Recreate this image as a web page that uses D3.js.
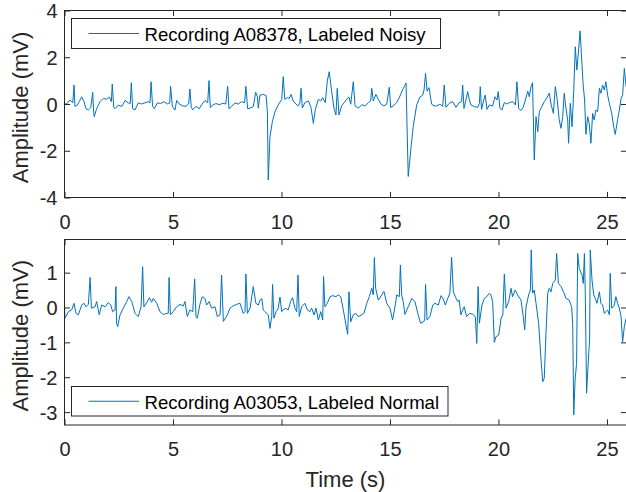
<!DOCTYPE html>
<html><head><meta charset="utf-8">
<script src="https://cdn.jsdelivr.net/npm/d3@7"></script>
<style>html,body{margin:0;padding:0;background:#fff;} svg{display:block;font-family:"Liberation Sans",Arial,Helvetica,sans-serif;}</style>
</head><body><svg id="c" width="626" height="492"></svg>
<script>
// ---- data ----
const timeNoisy=[0.00,0.10,0.25,0.38,0.44,0.48,0.59,0.68,0.79,0.90,0.99,1.10,1.21,1.30,1.34,1.37,1.48,1.64,1.79,1.94,2.07,2.16,2.20,2.27,2.33,2.48,2.64,2.79,2.94,3.03,3.08,3.14,3.25,3.40,3.56,3.71,3.86,3.94,3.99,4.06,4.14,4.28,4.43,4.59,4.74,4.85,4.89,4.97,5.09,5.17,5.29,5.45,5.60,5.72,5.78,5.84,5.91,6.06,6.21,6.34,6.47,6.60,6.66,6.72,6.83,6.98,7.13,7.29,7.43,7.52,7.58,7.70,7.86,8.01,8.16,8.30,8.36,8.44,8.55,8.70,8.81,8.89,8.93,9.01,9.16,9.29,9.35,9.39,9.47,9.58,9.70,9.85,10.01,10.08,10.15,10.27,10.36,10.44,10.54,10.67,10.77,10.85,10.90,10.96,11.08,11.24,11.36,11.47,11.56,11.70,11.81,11.90,12.02,12.11,12.20,12.31,12.42,12.51,12.57,12.65,12.77,12.89,13.00,13.11,13.19,13.31,13.39,13.54,13.70,13.85,14.00,14.11,14.16,14.23,14.35,14.46,14.59,14.72,14.85,14.97,15.03,15.15,15.31,15.46,15.59,15.66,15.74,15.84,15.97,16.07,16.23,16.38,16.51,16.57,16.64,16.71,16.80,16.92,17.03,17.15,17.30,17.43,17.50,17.58,17.73,17.89,18.04,18.19,18.30,18.35,18.41,18.50,18.58,18.66,18.73,18.89,19.04,19.12,19.16,19.22,19.32,19.39,19.47,19.58,19.73,19.84,19.93,19.99,20.07,20.16,20.27,20.39,20.50,20.66,20.78,20.85,20.93,21.04,21.14,21.24,21.35,21.42,21.50,21.57,21.65,21.73,21.81,21.88,22.00,22.11,22.24,22.34,22.43,22.53,22.62,22.70,22.80,22.88,22.96,23.03,23.11,23.19,23.23,23.31,23.39,23.47,23.54,23.61,23.68,23.76,23.82,23.90,23.97,24.03,24.11,24.18,24.26,24.34,24.41,24.49,24.57,24.65,24.72,24.80,24.88,24.95,25.03,25.11,25.22,25.31,25.38,25.49,25.57,25.65,25.72,25.80,25.88];
const ampNoisy=[0.02,0.00,0.17,0.05,0.81,-0.10,-0.05,0.10,0.31,0.10,-0.20,-0.25,-0.15,0.50,-0.30,-0.54,-0.20,0.10,0.24,0.20,0.30,0.10,0.85,-0.15,-0.20,-0.05,-0.10,0.15,0.05,0.02,0.91,-0.20,-0.25,0.05,0.00,0.05,0.10,0.05,0.95,-0.10,-0.20,0.05,0.02,0.10,0.00,0.05,0.76,-0.10,-0.26,0.15,0.00,-0.08,-0.10,0.00,0.64,-0.15,-0.25,-0.10,-0.20,0.00,0.15,0.05,1.00,-0.15,-0.05,0.02,-0.03,0.03,0.00,0.76,-0.20,-0.10,0.05,0.00,0.10,0.05,0.76,-0.20,-0.18,-0.11,0.50,0.31,-0.18,0.38,0.41,0.36,-0.33,-3.25,-1.40,-0.75,-0.33,-0.04,0.20,1.17,0.20,0.27,0.24,0.41,0.13,-0.01,-0.08,0.06,0.67,-0.17,0.06,0.13,-0.15,-0.83,-0.23,0.20,0.13,0.27,0.06,0.98,1.38,0.55,-0.18,-0.47,0.67,-0.47,-0.08,0.06,0.20,0.30,-0.01,0.95,-0.08,-0.18,-0.03,-0.08,0.06,0.13,0.67,0.13,0.41,0.20,-0.01,-0.08,-0.01,0.72,-0.15,-0.08,0.06,0.34,0.63,0.74,0.90,-3.10,-1.87,-0.97,-0.04,0.30,0.38,0.60,1.31,0.55,0.70,-0.01,-0.08,-0.08,-0.01,-0.10,0.81,-0.14,0.03,0.10,-0.14,0.06,0.10,0.81,-0.19,0.17,0.53,0.17,-0.04,-0.11,-0.14,0.03,0.74,-0.23,0.17,0.38,-0.23,-0.04,-0.09,0.31,0.17,0.53,-0.19,-0.26,0.06,0.00,0.06,0.10,-0.04,0.95,-0.19,-0.28,-0.14,0.17,0.55,0.31,0.74,0.91,-2.39,-0.54,-1.18,-0.33,-0.11,0.10,0.28,0.46,-0.04,-0.40,0.74,0.24,-0.68,-1.04,-0.54,0.46,-0.19,-0.68,-1.68,0.03,-0.97,0.60,2.45,1.45,2.17,3.13,2.17,0.85,0.17,-1.30,-0.54,-0.83,-1.68,-0.40,-0.68,-0.26,-0.33,0.67,0.46,0.81,0.60,0.95,0.38,0.03,-0.40,-0.97,-1.30,-0.68,-0.26,0.24,0.38,1.52,0.74];
const timeNormal=[0.00,0.02,0.18,0.33,0.44,0.53,0.64,0.79,0.90,0.99,1.10,1.18,1.24,1.41,1.48,1.60,1.71,1.87,2.02,2.13,2.22,2.33,2.37,2.40,2.45,2.56,2.71,2.87,2.97,3.10,3.25,3.40,3.53,3.60,3.66,3.82,3.91,4.02,4.09,4.25,4.40,4.55,4.71,4.78,4.82,4.88,5.01,5.17,5.32,5.47,5.55,5.66,5.78,5.91,6.00,6.06,6.12,6.24,6.35,6.47,6.55,6.67,6.78,6.94,7.04,7.17,7.24,7.32,7.47,7.63,7.78,7.93,8.09,8.24,8.32,8.36,8.43,8.55,8.70,8.82,8.93,9.01,9.09,9.16,9.24,9.39,9.47,9.55,9.59,9.65,9.75,9.85,9.93,10.01,10.16,10.31,10.42,10.51,10.62,10.70,10.76,10.82,10.93,11.08,11.19,11.31,11.39,11.50,11.59,11.70,11.81,11.90,11.94,12.00,12.11,12.24,12.36,12.51,12.62,12.73,12.85,12.97,13.05,13.11,13.19,13.31,13.43,13.54,13.70,13.80,13.93,14.05,14.16,14.23,14.28,14.34,14.46,14.62,14.72,14.85,15.00,15.12,15.23,15.31,15.43,15.48,15.54,15.61,15.69,15.84,16.00,16.15,16.30,16.41,16.54,16.60,16.64,16.71,16.84,16.97,17.07,17.23,17.35,17.45,17.55,17.66,17.76,17.84,17.92,18.01,18.12,18.19,18.27,18.35,18.42,18.53,18.66,18.81,18.93,19.00,19.06,19.12,19.24,19.35,19.46,19.58,19.65,19.73,19.81,19.88,20.01,20.12,20.20,20.27,20.35,20.47,20.58,20.65,20.77,20.88,21.04,21.14,21.21,21.27,21.39,21.47,21.51,21.57,21.65,21.73,21.85,21.96,22.04,22.11,22.19,22.27,22.34,22.42,22.50,22.62,22.68,22.76,22.88,23.00,23.11,23.26,23.37,23.42,23.47,23.53,23.60,23.65,23.72,23.85,23.91,23.96,24.00,24.06,24.16,24.20,24.23,24.31,24.39,24.46,24.54,24.65,24.72,24.80,24.88,24.95,25.03,25.11,25.15,25.22,25.34,25.41,25.49,25.57,25.65,25.72,25.80,25.88];
const ampNormal=[0.12,-0.31,-0.12,-0.07,0.12,-0.17,-0.21,0.07,0.12,0.02,0.09,0.86,-0.02,0.02,0.17,-0.21,0.07,0.02,0.14,0.07,-0.12,-0.07,0.60,-0.45,-0.55,-0.21,-0.02,0.17,0.31,0.17,-0.17,-0.26,0.02,1.17,0.02,0.17,0.28,0.15,0.26,0.12,-0.12,-0.20,-0.17,-0.17,0.86,-0.21,-0.12,0.02,0.09,0.04,0.17,-0.26,-0.07,-0.12,0.82,-0.26,-0.31,0.09,0.31,0.26,0.07,0.17,-0.02,0.02,-0.26,-0.21,0.93,-0.40,-0.26,-0.02,0.05,0.09,0.12,-0.17,-0.12,0.96,-0.17,-0.02,0.60,0.12,0.07,0.21,0.26,-0.07,-0.12,-0.21,-0.60,-0.26,0.66,-0.31,-0.12,-0.02,0.30,-0.12,-0.02,-0.07,0.17,0.28,-0.02,-0.12,0.93,-0.26,0.02,0.12,-0.07,-0.12,-0.02,-0.21,-0.02,-0.36,-0.12,-0.36,0.89,0.02,0.12,0.31,0.34,0.31,0.36,0.31,-0.07,-0.50,-0.77,0.45,-0.41,-0.21,-0.17,-0.26,-0.21,-0.17,0.12,0.31,0.55,0.36,1.43,0.55,0.21,0.36,0.46,0.12,-0.02,-0.36,0.02,0.36,0.31,1.22,0.36,0.17,-0.20,0.02,0.26,0.17,-0.21,-0.45,-0.41,-0.36,0.66,-0.36,-0.26,0.07,0.12,0.07,0.34,0.25,0.07,0.26,0.41,1.44,0.45,0.31,0.17,0.21,-0.21,-0.07,0.02,-0.26,-0.17,-0.19,-0.26,-1.03,0.60,-0.45,0.07,0.26,0.31,0.41,0.36,0.17,-1.00,-0.84,-0.79,-0.31,-0.21,0.96,-0.02,0.17,0.55,0.31,0.50,0.36,0.21,-0.26,-0.64,0.02,0.36,0.50,1.65,0.41,0.50,0.12,-0.45,-1.50,-2.13,-2.03,-0.74,0.41,0.55,0.45,0.69,0.79,1.55,0.69,0.60,0.45,0.26,0.21,0.02,-0.45,-3.08,-2.08,-1.60,1.55,1.12,0.93,0.69,1.55,0.41,-2.46,-1.31,-0.93,1.65,0.79,0.36,0.26,0.12,0.45,0.12,0.07,-0.17,-0.12,-0.07,-0.21,0.98,-0.02,0.07,0.31,0.12,-0.02,-0.26,-0.98,-0.55,-0.31];
const xTicks=[0,5,10,15,20,25];
const yTicksNoisy=[-4,-2,0,2,4];
const yTicksNormal=[-3,-2,-1,0,1];
const xDomain=[0,25.9];
const yDomainNoisy=[-4,4];
const yDomainNormal=[-3.37,1.95];
const legendNoisy="Recording A08378, Labeled Noisy";
const legendNormal="Recording A03053, Labeled Normal";
const xLabel="Time (s)";
const yLabel="Amplitude (mV)";

// ---- layout ----
const svg=d3.select("#c");
svg.append("rect").attr("width",626).attr("height",492).attr("fill","#fff");
const ink="#262626", lineColor="#0072BD";
const L=64.5, R=626.5, TL=5.6;
const FT=20, FL=22, FG=18.6;

function panel(cfg){
  const x=d3.scaleLinear().domain(xDomain).range([L,R]);
  const y=d3.scaleLinear().domain(cfg.yDomain).range([cfg.bottom,cfg.top]);
  const g=svg.append("g");
  g.append("clipPath").attr("id",cfg.id).append("rect")
    .attr("x",L).attr("y",cfg.top).attr("width",R-L).attr("height",cfg.bottom-cfg.top);
  g.append("path").datum(d3.range(cfg.time.length))
    .attr("d",d3.line().x(i=>x(cfg.time[i])).y(i=>y(cfg.amp[i])))
    .attr("fill","none").attr("stroke",lineColor).attr("stroke-width",1)
    .attr("stroke-linejoin","round").attr("clip-path",`url(#${cfg.id})`);
  // bottom axis
  const ab=g.append("g").attr("transform",`translate(0,${cfg.bottom})`)
    .call(d3.axisBottom(x).tickValues(xTicks).tickSize(-TL).tickFormat(d=>String(d)));
  ab.attr("font-family",null).attr("font-size",FT).attr("color",ink);
  ab.select(".domain").remove();
  ab.selectAll("text").attr("y",31).attr("dy",null);
  // top ticks
  const at=g.append("g").attr("transform",`translate(0,${cfg.top})`)
    .call(d3.axisTop(x).tickValues(xTicks).tickSize(-TL).tickFormat(""));
  at.attr("color",ink); at.select(".domain").remove();
  // left axis
  const al=g.append("g").attr("transform",`translate(${L},0)`)
    .call(d3.axisLeft(y).tickValues(cfg.yTicks).tickSize(-TL).tickFormat(d=>String(d)));
  al.attr("font-family",null).attr("font-size",FT).attr("color",ink);
  al.select(".domain").remove();
  al.selectAll("text").attr("x",-7).attr("dy",null).attr("y",7);
  // right ticks
  const ar=g.append("g").attr("transform",`translate(${R},0)`)
    .call(d3.axisRight(y).tickValues(cfg.yTicks).tickSize(-TL).tickFormat(""));
  ar.attr("color",ink); ar.select(".domain").remove();
  // box
  g.append("rect").attr("x",L).attr("y",cfg.top).attr("width",R-L).attr("height",cfg.bottom-cfg.top)
    .attr("fill","none").attr("stroke",ink).attr("stroke-width",1);
  // y label
  g.append("text").attr("transform",`translate(27.5,${(cfg.top+cfg.bottom)/2+3.5}) rotate(-90)`)
    .attr("text-anchor","middle").attr("font-size",FL).attr("fill",ink).text(yLabel);
  // legend
  const lg=cfg.legend;
  g.append("rect").attr("x",lg.x).attr("y",lg.y).attr("width",lg.w).attr("height",lg.h)
    .attr("fill","#fff").attr("stroke",ink).attr("stroke-width",1);
  g.append("line").attr("x1",lg.x+17).attr("x2",lg.x+67.5).attr("y1",lg.y+lg.h/2).attr("y2",lg.y+lg.h/2)
    .attr("stroke",lineColor).attr("stroke-width",1);
  g.append("text").attr("x",lg.x+73).attr("y",lg.y+22.3).attr("font-size",FG).attr("fill","#000").text(lg.text);
}

panel({id:"c1",top:10.5,bottom:197.5,yDomain:yDomainNoisy,yTicks:yTicksNoisy,time:timeNoisy,amp:ampNoisy,
  legend:{x:71.5,y:18.5,w:369,h:30,text:legendNoisy}});
panel({id:"c2",top:239.5,bottom:425,yDomain:yDomainNormal,yTicks:yTicksNormal,time:timeNormal,amp:ampNormal,
  legend:{x:71.5,y:386.5,w:376.5,h:29.5,text:legendNormal}});

svg.append("text").attr("x",(L+R)/2).attr("y",486.5).attr("text-anchor","middle")
  .attr("font-size",FL).attr("fill",ink).text(xLabel);
</script></body></html>
